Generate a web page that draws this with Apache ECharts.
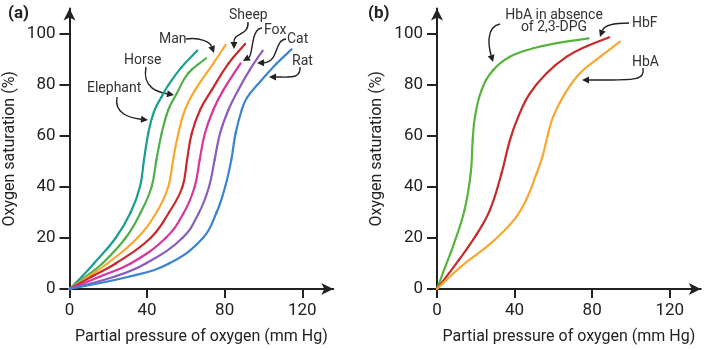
<!DOCTYPE html>
<html>
<head>
<meta charset="utf-8">
<script src="https://cdn.jsdelivr.net/npm/echarts@6/dist/echarts.min.js"></script>
<style>
  html, body { margin: 0; padding: 0; background: #fff; }
  #chart { width: 709px; height: 350px; }
</style>
</head>
<body>
<div id="chart"></div>
<script>
// panel (a): curves, [pO2, saturation]
var elephant = [[0,0],[6.6,5],[12.6,10],[23.8,20],[31.5,30],[36.3,40],[38.4,50.6],[40.6,61],[43.5,69.5],[47.5,75.4],[51,80],[57.8,87],[65.9,93.5]];
var horse    = [[0,0],[8.7,5],[16.9,10],[28.9,20],[36.7,30],[42.3,40],[44.8,50.6],[47.5,61],[50.9,70.2],[55.3,76.7],[61.2,84.6],[70.4,90.5]];
var man      = [[0,0],[10.1,5],[19.5,10],[35,20],[44.8,30],[50.9,40],[53.4,50.6],[56.1,61],[59.5,70.2],[64.7,78],[74.1,88.4],[80.5,95.7]];
var sheep    = [[0,0],[11.8,5],[23.8,10],[41.8,20],[51.3,30],[58.2,40],[60.6,50.6],[63,61],[67.3,70.2],[73.3,78],[81.9,88.4],[90.5,96.1]];
var fox      = [[0,0],[16.1,5],[31.5,10],[49.6,20],[59,30],[64.5,40],[67.1,50.6],[69.8,61],[74.1,70.2],[79.3,78],[88.2,88.5]];
var cat      = [[0,0],[23.8,5],[39.3,10],[58.2,20],[66.8,30],[71.9,40],[74.8,50.6],[77.6,61],[81.9,70.2],[87,78],[93,86],[99.6,93.5]];
var rat      = [[0,0],[31.5,5],[51.3,10],[68.8,20],[75.8,30],[80.2,40],[83.4,50.6],[85.6,61],[88.8,70.2],[91.5,75],[98.2,81.2],[106.8,88.4],[114.5,94]];

// panel (b)
var hbaNoDpg = [[0,0],[3.6,7.4],[8.8,17.9],[14.2,31],[17.4,45.4],[18.4,58.4],[19.6,67.6],[23,78],[29,85.9],[37.6,91.1],[49.6,94.4],[61.7,96.4],[78.2,98.3]];
var hbf      = [[0,0],[11.3,11.4],[20.5,21.5],[27.3,31],[33.3,45.4],[37.6,58.4],[41.9,67.6],[47.9,76.7],[56.5,84.6],[66.9,91.1],[77.5,95.3],[88.8,98.7]];
var hba      = [[0,0],[12.2,8.7],[27.7,17.9],[39.7,27.1],[46,35],[51.4,45.4],[54.4,52],[57,60],[59.9,67.6],[66,76.7],[73.7,84.6],[84.2,91.1],[94.3,97]];

var xTicks = [0, 40, 80, 120];
var yTicks = [0, 20, 40, 60, 80, 100];

var axisColor = '#222';
var font = 'Roboto, "Open Sans", sans-serif';

function makeX(idx) {
  return {
    gridIndex: idx, type: 'value', min: 0, max: 136,
    name: 'Partial pressure of oxygen (mm Hg)', nameLocation: 'middle', nameGap: 40,
    nameTextStyle: { fontSize: 16, color: '#222', fontFamily: font },
    axisLine: { show: true, symbol: ['none', 'arrow'], symbolSize: [9, 12], lineStyle: { color: axisColor, width: 2 } },
    axisTick: { show: true, length: 9, customValues: xTicks, lineStyle: { color: axisColor, width: 2 } },
    axisLabel: { customValues: xTicks, fontSize: 17, color: '#222', margin: 13, fontFamily: font },
    splitLine: { show: false }
  };
}
function makeY(idx) {
  return {
    gridIndex: idx, type: 'value', min: 0, max: 110,
    name: 'Oxygen saturation (%)', nameLocation: 'middle', nameGap: 52,
    nameTextStyle: { fontSize: 16, color: '#222', fontFamily: font },
    axisLine: { show: true, symbol: ['none', 'arrow'], symbolSize: [9, 12], lineStyle: { color: axisColor, width: 2 } },
    axisTick: { show: true, length: 10, customValues: yTicks, lineStyle: { color: axisColor, width: 2 } },
    axisLabel: { customValues: yTicks, fontSize: 17, color: '#222', margin: 14, fontFamily: font },
    splitLine: { show: false }
  };
}

// smooth curve through the read points, drawn in pixel space from api.coord
// (echarts' own smoothing clamps control points and leaves corners on these steep curves)
function curve(name, data, color, idx) {
  return {
    name: name, type: 'custom', data: data, xAxisIndex: idx, yAxisIndex: idx,
    encode: { x: 0, y: 1 }, silent: true,
    renderItem: function (params, api) {
      if (params.dataIndex !== 0) return null;
      var p = data.map(function (d) { return api.coord(d); });
      var n = p.length, s = 0.42, kids = [];
      function tan(i) {
        var a = p[Math.max(i - 1, 0)], b = p[Math.min(i + 1, n - 1)];
        return [b[0] - a[0], b[1] - a[1]];
      }
      function dist(a, b) { return Math.sqrt((a[0] - b[0]) * (a[0] - b[0]) + (a[1] - b[1]) * (a[1] - b[1])); }
      for (var i = 0; i < n - 1; i++) {
        var t0 = tan(i), t1 = tan(i + 1);
        var d = dist(p[i], p[i + 1]);
        var l0 = dist(p[Math.max(i - 1, 0)], p[Math.min(i + 1, n - 1)]) || 1;
        var l1 = dist(p[i], p[Math.min(i + 2, n - 1)]) || 1;
        var k0 = s * d / l0, k1 = s * d / l1;
        kids.push({
          type: 'bezierCurve',
          shape: {
            x1: p[i][0], y1: p[i][1],
            cpx1: p[i][0] + t0[0] * k0, cpy1: p[i][1] + t0[1] * k0,
            cpx2: p[i + 1][0] - t1[0] * k1, cpy2: p[i + 1][1] - t1[1] * k1,
            x2: p[i + 1][0], y2: p[i + 1][1]
          },
          style: { stroke: color, lineWidth: 2.2, fill: null, lineCap: 'round' }
        });
      }
      return { type: 'group', children: kids };
    }
  };
}

// annotation helpers
function txt(x, y, s, align) {
  return { type: 'text', x: x, y: y, style: { text: s, font: '14px ' + font, fill: '#333', align: align || 'left', verticalAlign: 'middle' } };
}
function arrow(p) {
  // p = [x1,y1,cx1,cy1,cx2,cy2,x2,y2]
  var ang = Math.atan2(p[7] - p[5], p[6] - p[4]);
  var L = 7, W = 3.5;
  var bx = p[6] - L * Math.cos(ang), by = p[7] - L * Math.sin(ang);
  var nx = -Math.sin(ang) * W, ny = Math.cos(ang) * W;
  return [
    { type: 'bezierCurve', shape: { x1: p[0], y1: p[1], cpx1: p[2], cpy1: p[3], cpx2: p[4], cpy2: p[5], x2: bx, y2: by },
      style: { stroke: '#222', lineWidth: 1.4, fill: null } },
    { type: 'polygon', shape: { points: [[p[6], p[7]], [bx + nx, by + ny], [bx - nx, by - ny]] }, style: { fill: '#222' } }
  ];
}

var graphics = [
  { type: 'text', x: 8, y: 14, style: { text: '(a)', font: 'bold 17px ' + font, fill: '#222', verticalAlign: 'middle' } },
  { type: 'text', x: 368, y: 14, style: { text: '(b)', font: 'bold 17px ' + font, fill: '#222', verticalAlign: 'middle' } },
  txt(87, 88, 'Elephant'), txt(124, 60, 'Horse'), txt(159, 39, 'Man'), txt(229, 15, 'Sheep'),
  txt(264, 30, 'Fox'), txt(287, 39, 'Cat'), txt(292, 61, 'Rat'),
  txt(554, 15, 'HbA in absence', 'center'), txt(554, 27, 'of 2,3-DPG', 'center'),
  txt(632, 23, 'HbF'), txt(632, 62, 'HbA')
];
[
  [117, 97, 114, 114, 130, 118, 148, 120],
  [146, 67, 142, 88, 158, 92, 174, 95],
  [186, 39, 200, 37, 210, 42, 214, 53],
  [248, 22, 249, 36, 234, 32, 234, 49],
  [262, 28, 251, 28, 253, 55, 243, 61],
  [286, 39, 274, 40, 279, 62, 257, 63],
  [300, 67, 301, 79, 290, 77, 269, 77],
  [500, 24, 485, 27, 489, 48, 493, 62],
  [629, 23, 612, 23, 604, 26, 600, 37],
  [643, 68, 645, 81, 634, 80, 582, 80]
].forEach(function (p) { graphics = graphics.concat(arrow(p)); });

var chart = echarts.init(document.getElementById('chart'), null, { renderer: 'canvas' });
chart.setOption({
  animation: false,
  backgroundColor: '#fff',
  textStyle: { fontFamily: font },
  grid: [
    { left: 69.5, top: 8.5, width: 263.8, height: 280.5 },
    { left: 437, top: 8.5, width: 263.8, height: 280.5 }
  ],
  xAxis: [makeX(0), makeX(1)],
  yAxis: [makeY(0), makeY(1)],
  series: [
    curve('Elephant', elephant, '#1b9e8e', 0),
    curve('Horse', horse, '#4fb04a', 0),
    curve('Man', man, '#f6a92e', 0),
    curve('Sheep', sheep, '#c8292c', 0),
    curve('Fox', fox, '#d6369a', 0),
    curve('Cat', cat, '#8d5cc0', 0),
    curve('Rat', rat, '#3a83d2', 0),
    curve('HbA in absence of 2,3-DPG', hbaNoDpg, '#58b43c', 1),
    curve('HbF', hbf, '#c62a2a', 1),
    curve('HbA', hba, '#f6a830', 1)
  ],
  graphic: graphics
});
</script>
</body>
</html>
